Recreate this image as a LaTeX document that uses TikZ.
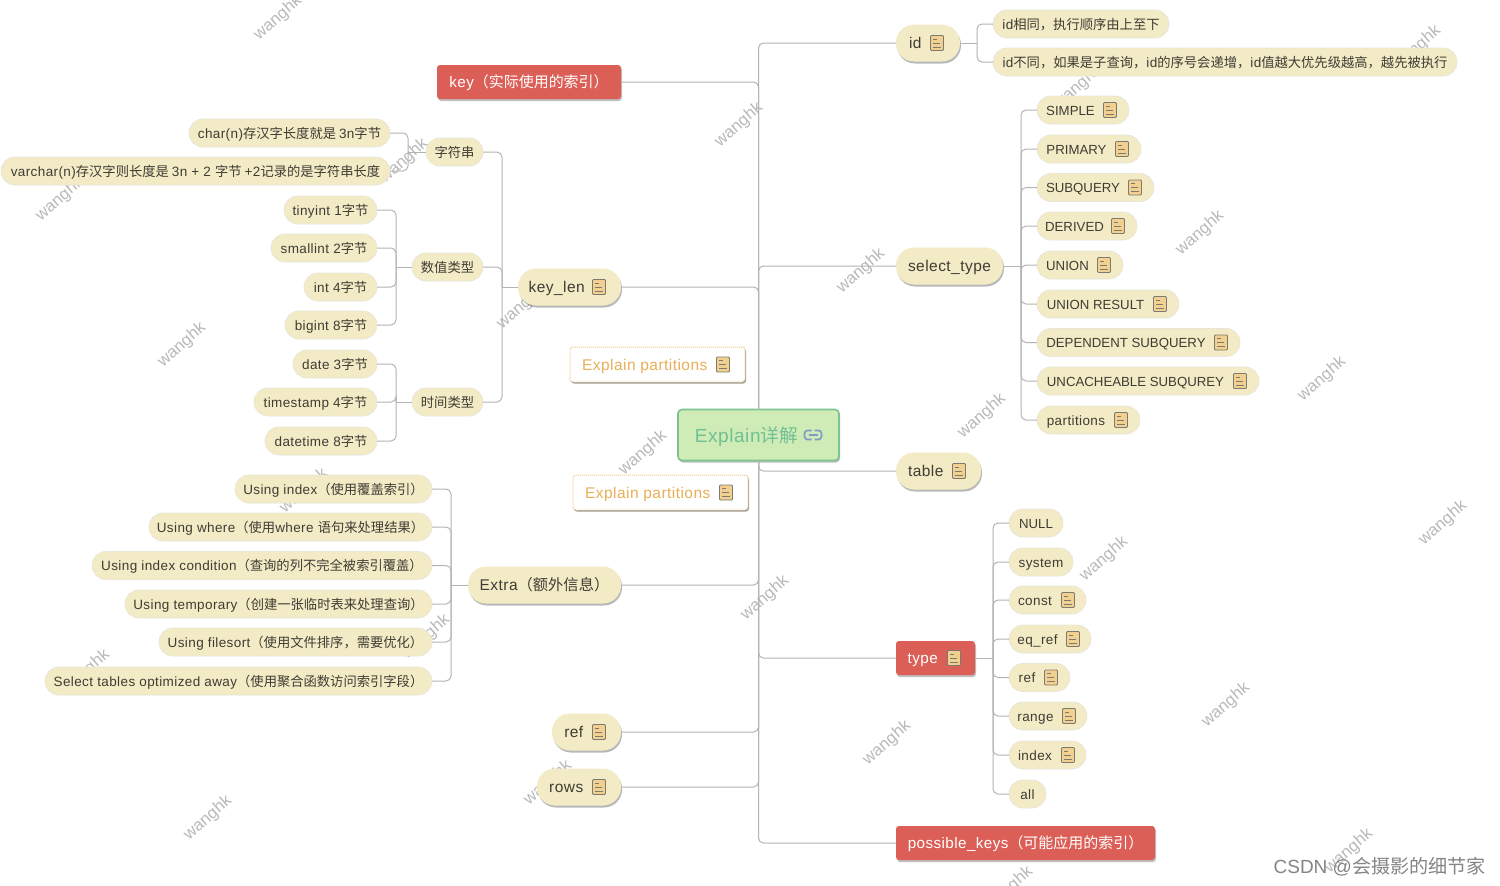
\documentclass[tikz,border=0pt]{standalone}
\usepackage{fontspec}
\usetikzlibrary{shadows,calc}
\setmainfont[LetterSpace=2.9]{Liberation Sans}
\newfontfamily\cjkfam[Scale=0.985]{Noto Sans CJK SC}
\newfontfamily\spacedfam[LetterSpace=2.9]{Liberation Sans}
\newfontfamily\capfam[Scale=0.98]{Liberation Sans}
\let\curlat\spacedfam
\newXeTeXintercharclass\cjkclass
\newcount\cc
\cc="3000 \loop\ifnum\cc<"3040 \XeTeXcharclass\cc=\cjkclass \advance\cc 1 \repeat
\cc="4E00 \loop\ifnum\cc<"A000 \XeTeXcharclass\cc=\cjkclass \advance\cc 1 \repeat
\cc="FF00 \loop\ifnum\cc<"FF60 \XeTeXcharclass\cc=\cjkclass \advance\cc 1 \repeat
\XeTeXinterchartoks 0 \cjkclass={\cjkfam}
\XeTeXinterchartoks 4095 \cjkclass={\cjkfam}
\XeTeXinterchartoks \cjkclass 0={\curlat}
\XeTeXinterchartoks 4095 0={\curlat}
\AtBeginDocument{\XeTeXinterchartokenstate=1 }
\definecolor{pill}{HTML}{F3EBC6}
\definecolor{pillline}{HTML}{E9E6D8}
\definecolor{ink}{HTML}{3F3C33}
\definecolor{redbox}{HTML}{DC5F57}
\definecolor{rootfill}{HTML}{CFEBB6}
\definecolor{rootline}{HTML}{7CC48F}
\definecolor{roottext}{HTML}{6FC093}
\definecolor{amber}{HTML}{E9AF57}
\definecolor{linkc}{HTML}{B4B4B4}
\definecolor{markc}{HTML}{B9B9B9}
\definecolor{notefill}{HTML}{F2D08F}
\definecolor{notedge}{HTML}{7D7A72}
\definecolor{chainc}{HTML}{7F9DC6}
\tikzset{
 base/.style={inner sep=0pt,outer sep=0pt,text=ink,align=center,text height=12pt,text depth=2pt},
 leaf/.style={base,fill=pill,draw=pillline,line width=.7pt,rounded corners=13.9pt,minimum height=28pt,font=\fontsize{13.5}{15}\selectfont},
 capleaf/.style={leaf,font=\fontsize{13.5}{15}\selectfont\let\curlat\capfam},
 mid/.style={leaf},
 hub/.style={base,fill=pill,rounded corners=18pt,minimum height=37pt,font=\fontsize{15.5}{18}\selectfont,
   drop shadow={shadow xshift=1pt,shadow yshift=-2pt,opacity=.28,fill=black}},
 redn/.style={base,fill=redbox,text=white,rounded corners=3pt,minimum height=34pt,font=\fontsize{15.2}{18}\selectfont,
   drop shadow={shadow xshift=1pt,shadow yshift=-2pt,opacity=.25,fill=black}},
 rootn/.style={base,fill=rootfill,draw=rootline,line width=1.6pt,rounded corners=4pt,minimum height=51pt,text=roottext,font=\fontsize{19}{24}\selectfont,text height=16pt,text depth=2pt,
   drop shadow={shadow xshift=1pt,shadow yshift=-2pt,opacity=.25,fill=black}},
 refn/.style={base,fill=white,draw=amber!70,densely dotted,line width=1pt,rounded corners=3pt,minimum height=35pt,text=amber,font=\fontsize{15.5}{18}\selectfont,text height=12.5pt,text depth=1.5pt,
   drop shadow={shadow xshift=1pt,shadow yshift=-1.5pt,opacity=.4,fill=black}},
 link/.style={draw=linkc,line width=1pt,rounded corners=5pt},
 wmark/.style={text=markc,rotate=41,inner sep=0pt,font=\fontsize{17}{20}\selectfont\let\curlat\capfam},
 credit/.style={text=black!48,inner sep=0pt,anchor=east,font=\fontsize{19.4}{24}\selectfont\let\curlat\capfam},
 noteicon/.pic={
  \draw[draw=notedge,fill=notefill,line width=.9pt,rounded corners=1pt] (-6.5,-7.5) rectangle (6.5,7.5);
  \draw[notedge,line width=1pt] (-4,-4) -- (0,-4) (-4,0) -- (3,0) (-4,4) -- (4,4);
 },
 chainicon/.pic={
  \draw[chainc,line width=1.7pt,rounded corners=3pt] (-1.5,-4.5) -- (-8.5,-4.5) -- (-8.5,4.5) -- (-1.5,4.5);
  \draw[chainc,line width=1.7pt,rounded corners=3pt] (1.5,-4.5) -- (8.5,-4.5) -- (8.5,4.5) -- (1.5,4.5);
  \draw[chainc,line width=1.7pt] (-4.5,0) -- (4.5,0);
 },
}
\newcommand\bx[6]{\node[#1,minimum width={(#4-#3)*1pt}] (#2) at ({(#3+#4)/2},#5) {#6};}
\newcommand\ic{\hspace{25pt}}
\newcommand\ib{\hspace{25.5pt}}
\newcommand\nt[2]{\path (#1.east) ++(#2,0) pic {noteicon};}
\newcommand\sub[3]{\draw[link] (#1) -- (#2 |- #1); \draw[link] (#2 |- #1) |- (#3);}
\begin{document}
\begin{tikzpicture}[x=1pt,y=-1pt]
\useasboundingbox (0,0) rectangle (1500,886);
\fill[white] (0,0) rectangle (1500,886);
% watermarks
\foreach \n/\x/\y in {a/278/18,b/739/125,c/1200/233,d/1322/379,e/1443/523,f/1226/705,g/1349/851,h/887/743,i/765/598,j/982/416,k/861/271,l/643/453,m/182/345,n/208/818,o/1104/559,p/60/199,q/1078/87,r/1417/48,s/304/491,t/426/637,u/548/783,v/86/672,w/1009/889,x/521/307,y/404/161}
  \node[wmark] (wm\n) at (\x,\y) {wanghk};
% nodes
\bx{rootn}{root}{678}{839}{435}{Explain详解\hspace{24pt}}
\path (root.east) ++(-26,0) pic {chainicon};
\bx{hub}{id}{896}{960}{43}{id\ib}\nt{id}{-23}
\bx{leaf}{id1}{993}{1169}{24}{id相同，执行顺序由上至下}
\bx{leaf}{id2}{993}{1457}{62}{id不同，如果是子查询，id的序号会递增，id值越大优先级越高，越先被执行}
\bx{redn}{key}{437}{621}{82}{key（实际使用的索引）}
\bx{hub}{sel}{896}{1003}{266}{select\_type}
\bx{capleaf}{s1}{1037}{1129}{110}{SIMPLE\ic}\nt{s1}{-19}
\bx{capleaf}{s2}{1037}{1141}{149}{PRIMARY\ic}\nt{s2}{-19}
\bx{capleaf}{s3}{1037}{1154}{187.5}{SUBQUERY\ic}\nt{s3}{-19}
\bx{capleaf}{s4}{1037}{1137}{226}{DERIVED\ic}\nt{s4}{-19}
\bx{capleaf}{s5}{1037}{1123}{265}{UNION\ic}\nt{s5}{-19}
\bx{capleaf}{s6}{1037}{1179}{304}{UNION RESULT\ic}\nt{s6}{-19}
\bx{capleaf}{s7}{1037}{1240}{342.5}{DEPENDENT SUBQUERY\ic}\nt{s7}{-19}
\bx{capleaf}{s8}{1037}{1259}{381}{UNCACHEABLE SUBQUREY\ic}\nt{s8}{-19}
\bx{leaf}{s9}{1037}{1140}{420}{partitions\ic}\nt{s9}{-19}
\bx{hub}{tab}{896}{981}{471}{table\ib}\nt{tab}{-22}
\bx{redn}{typ}{896}{975}{658}{type\ib}\nt{typ}{-21}
\bx{capleaf}{t1}{1009}{1063}{523}{NULL}
\bx{leaf}{t2}{1009}{1073}{562}{system}
\bx{leaf}{t3}{1009}{1086}{600}{const\ic}\nt{t3}{-18}
\bx{leaf}{t4}{1009}{1091}{639}{eq\_ref\ic}\nt{t4}{-18}
\bx{leaf}{t5}{1009}{1070}{677.5}{ref\ic}\nt{t5}{-19}
\bx{leaf}{t6}{1009}{1087}{716}{range\ic}\nt{t6}{-18}
\bx{leaf}{t7}{1009}{1086}{755}{index\ic}\nt{t7}{-18}
\bx{leaf}{t8}{1009}{1046}{794}{all}
\bx{redn}{pos}{896}{1155}{843}{possible\_keys（可能应用的索引）}
\bx{refn}{p1}{570}{745}{364.5}{Explain partitions\ib}\nt{p1}{-22}
\bx{refn}{p2}{573}{748}{492.5}{Explain partitions\ib}\nt{p2}{-22}
\bx{hub}{kl}{518}{621}{287}{key\_len\ib}\nt{kl}{-22}
\bx{mid}{str}{426}{483}{152}{字符串}
\bx{leaf}{c1}{189}{390}{133}{char(n)存汉字长度就是 3n字节}
\bx{leaf}{c2}{1}{390}{171}{varchar(n)存汉字则长度是 3n + 2 字节 +2记录的是字符串长度}
\bx{mid}{num}{412}{483}{267}{数值类型}
\bx{leaf}{n1}{284}{377}{210}{tinyint 1字节}
\bx{leaf}{n2}{271}{377}{248}{smallint 2字节}
\bx{leaf}{n3}{304}{377}{287}{int 4字节}
\bx{leaf}{n4}{285}{377}{325}{bigint 8字节}
\bx{mid}{tim}{412}{483}{402}{时间类型}
\bx{leaf}{d1}{293}{377}{364}{date 3字节}
\bx{leaf}{d2}{254}{377}{402}{timestamp 4字节}
\bx{leaf}{d3}{265}{377}{441}{datetime 8字节}
\bx{hub}{ext}{468}{621}{585}{Extra（额外信息）}
\bx{leaf}{e1}{235}{432}{489}{Using index（使用覆盖索引）}
\bx{leaf}{e2}{149}{432}{527}{Using where（使用where 语句来处理结果）}
\bx{leaf}{e3}{92}{432}{565.5}{Using index condition（查询的列不完全被索引覆盖）}
\bx{leaf}{e4}{125}{432}{604}{Using temporary（创建一张临时表来处理查询）}
\bx{leaf}{e5}{159}{432}{642}{Using filesort（使用文件排序，需要优化）}
\bx{leaf}{e6}{45}{432}{681}{Select tables optimized away（使用聚合函数访问索引字段）}
\bx{hub}{rf}{552}{621}{732}{ref\ib}\nt{rf}{-22}
\bx{hub}{rw}{537}{621}{787}{rows\ib}\nt{rw}{-22}
\node[credit] (csdn) at (1486,867) {CSDN @会摄影的细节家};
% trunk connectors
\foreach \c in {id,sel}{\draw[link] (root.north) |- (\c.west);}
\foreach \c in {key,kl}{\draw[link] (root.north) |- (\c.east);}
\foreach \c in {tab,typ,pos}{\draw[link] (root.south) |- (\c.west);}
\foreach \c in {ext,rf,rw}{\draw[link] (root.south) |- (\c.east);}
% buses
\coordinate (bid) at (977,0);
\coordinate (bsel) at (1021,0);
\coordinate (btyp) at (993,0);
\coordinate (bkl) at (502,0);
\coordinate (bstr) at (408,0);
\coordinate (bnum) at (396,0);
\coordinate (bext) at (451,0);
\foreach \c in {id1,id2}{\sub{id.east}{bid}{\c.west}}
\foreach \c in {s1,s2,s3,s4,s5,s6,s7,s8,s9}{\sub{sel.east}{bsel}{\c.west}}
\foreach \c in {t1,t2,t3,t4,t5,t6,t7,t8}{\sub{typ.east}{btyp}{\c.west}}
\foreach \c in {str,num,tim}{\sub{kl.west}{bkl}{\c.east}}
\foreach \c in {c1,c2}{\sub{str.west}{bstr}{\c.east}}
\foreach \c in {n1,n2,n3,n4}{\sub{num.west}{bnum}{\c.east}}
\foreach \c in {d1,d2,d3}{\sub{tim.west}{bnum}{\c.east}}
\foreach \c in {e1,e2,e3,e4,e5,e6}{\sub{ext.west}{bext}{\c.east}}
\end{tikzpicture}
\end{document}
